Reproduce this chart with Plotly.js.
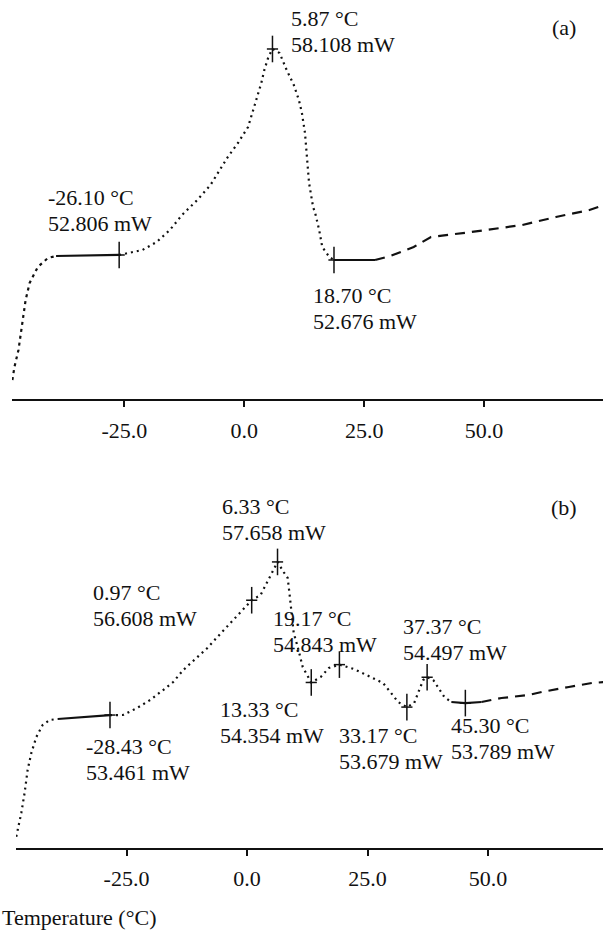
<!DOCTYPE html>
<html><head><meta charset="utf-8">
<script src="https://cdn.plot.ly/plotly-3.0.1.min.js"></script>
<style>html,body{margin:0;padding:0;background:#fff}</style>
</head><body><div id="chart" style="width:603px;height:935px"></div>
<script>
// ---- Data ----
// (a) DSC curve: temperature (°C) and heat flow (mW)
const tempA = [-48.37,-47.94,-47.10,-46.25,-45.61,-44.77,-43.07,-40.96,-39.26,-26.10,-24.01,-21.25,-18.28,-15.53,-12.99,-9.81,-7.06,-3.45,-1.33,0.78,2.48,3.54,4.17,5.02,5.87,7.35,8.83,10.32,11.38,12.01,12.65,13.07,13.50,14.34,14.77,15.61,16.25,17.73,18.70,27.27,30.45,35.32,38.92,47.39,57.99,64.98,71.97,76.21];
const powerA = [49.588,49.923,50.360,51.132,51.647,52.085,52.497,52.728,52.780,52.806,52.857,52.934,53.140,53.449,53.835,54.221,54.607,55.328,55.688,56.100,56.795,57.233,57.567,57.902,58.108,58.005,57.567,57.181,56.795,56.461,55.946,55.251,54.659,54.041,53.887,53.449,53.011,52.754,52.676,52.676,52.780,53.011,53.269,53.398,53.578,53.784,53.964,54.144];
// (a) labelled events
const eventTempA = [-26.10, 5.87, 18.70];
const eventPowerA = [52.806, 58.108, 52.676];

// (b) DSC curve
const tempB = [-47.88,-47.19,-46.83,-46.15,-45.52,-44.75,-43.71,-42.40,-40.94,-39.27,-28.43,-25.73,-22.81,-20.10,-17.40,-15.31,-13.23,-10.31,-8.23,-6.15,-3.44,-1.35,0.97,2.81,4.90,5.52,6.33,7.60,8.44,8.85,9.69,10.52,11.56,13.33,15.31,16.98,19.17,22.19,25.73,28.23,29.90,31.35,33.17,34.69,35.73,36.56,37.37,38.65,40.94,42.40,45.30,48.65,52.81,58.44,61.15,66.77,71.56,74.27];
const powerB = [50.127,50.503,50.777,51.325,51.955,52.421,52.859,53.188,53.325,53.353,53.461,53.462,53.654,53.873,54.147,54.367,54.695,55.052,55.298,55.600,55.984,56.285,56.608,56.751,57.299,57.436,57.658,57.381,57.217,56.751,55.709,55.326,54.778,54.354,54.504,54.750,54.843,54.723,54.504,54.339,54.065,53.819,53.679,53.791,54.147,54.421,54.497,54.421,53.956,53.819,53.789,53.819,53.928,54.010,54.093,54.230,54.339,54.367];
// (b) labelled events
const eventTempB = [6.33, 0.97, 19.17, 13.33, -28.43, 33.17, 37.37, 45.30];
const eventPowerB = [57.658, 56.608, 54.843, 54.354, 53.461, 53.679, 54.497, 53.789];

// axis ticks
const tickValues = [-25, 0, 25, 50];
const tickLabels = ['-25.0', '0.0', '25.0', '50.0'];
const xTitle = 'Temperature (°C)';
const panelLabels = ['(a)', '(b)'];

// ---- Styling / layout ----
const FONT = 'Liberation Serif, Times New Roman, serif';
const INK = '#111';
const LINE_GAP = 13; // half the distance between the two label lines (px)
// line style pieces along temperature (style only)
const stylesA = [
  {lo:-99, hi:-39.26, dash:'3px,4px'},
  {lo:-39.26, hi:-26.10, dash:'solid'},
  {lo:-26.10, hi:18.70, dash:'2px,4px'},
  {lo:18.70, hi:27.27, dash:'solid'},
  {lo:27.27, hi:99, dash:'10px,7px'}
];
const stylesB = [
  {lo:-99, hi:-39.27, dash:'2px,4px'},
  {lo:-39.27, hi:-28.43, dash:'solid'},
  {lo:-28.43, hi:42.40, dash:'2px,4px'},
  {lo:42.40, hi:48.65, dash:'solid'},
  {lo:48.65, hi:99, dash:'10px,7px'}
];
// text offsets (px) from each event point to its label block's left/middle
const offA = [[-73,44],[17,17.5],[-23,-48.5]];
const offB = [[-57.5,42],[-160.7,-4.8],[-68,33],[-93,-40],[-26,-44],[-69.6,-41],[-26.4,38],[-16.6,-35]];

function pieces(t, p, styles, xa, ya) {
  return styles.map(s => {
    const xs = [], ys = [];
    t.forEach((v, i) => { if (v >= s.lo && v <= s.hi) { xs.push(v); ys.push(p[i]); } });
    return {type:'scatter', mode:'lines', x:xs, y:ys, xaxis:xa, yaxis:ya,
      line:{color:INK, width:2.2, dash:s.dash}, hoverinfo:'skip', showlegend:false};
  });
}
function crosses(t, p, xa, ya) {
  return [
    {type:'scatter', mode:'markers', x:t, y:p, xaxis:xa, yaxis:ya, showlegend:false,
     marker:{symbol:'line-ns', size:19, color:INK, line:{color:INK, width:1.5}}},
    {type:'scatter', mode:'markers', x:t, y:p, xaxis:xa, yaxis:ya, showlegend:false,
     marker:{symbol:'line-ew', size:8, color:INK, line:{color:INK, width:1.5}}}
  ];
}
function labels(t, p, off, xr, yr) {
  const out = [];
  t.forEach((v, i) => {
    const base = {x:v, y:p[i], xref:xr, yref:yr, showarrow:false,
      xanchor:'left', yanchor:'middle', align:'left', xshift:off[i][0],
      font:{family:FONT, size:22, color:INK}};
    out.push(Object.assign({}, base, {text: v.toFixed(2) + ' °C', yshift: off[i][1] + LINE_GAP}));
    out.push(Object.assign({}, base, {text: p[i].toFixed(3) + ' mW', yshift: off[i][1] - LINE_GAP}));
  });
  return out;
}

const data = [].concat(
  pieces(tempA, powerA, stylesA, 'x', 'y'),
  crosses(eventTempA, eventPowerA, 'x', 'y'),
  pieces(tempB, powerB, stylesB, 'x2', 'y2'),
  crosses(eventTempB, eventPowerB, 'x2', 'y2')
);

const xBase = {
  showline:true, linecolor:INK, linewidth:2, showgrid:false, zeroline:false,
  ticks:'outside', ticklen:6, tickwidth:2, tickcolor:INK,
  tickvals:tickValues, ticktext:tickLabels, ticklabelstandoff:4,
  tickfont:{family:FONT, size:22, color:INK}, fixedrange:true
};

const layout = {
  width:603, height:935,
  margin:{l:12, r:0, t:0, b:87},
  paper_bgcolor:'#fff', plot_bgcolor:'#fff',
  showlegend:false,
  xaxis: Object.assign({}, xBase, {domain:[0,1], range:[-48.45, 74.8], anchor:'y'}),
  yaxis: {domain:[0.5289,1], range:[49.086, 59.369], visible:false, fixedrange:true},
  xaxis2: Object.assign({}, xBase, {domain:[4/591,1], range:[-47.93, 73.86], anchor:'y2'}),
  yaxis2: {domain:[0,0.4811], range:[49.817, 60.999], visible:false, fixedrange:true},
  annotations: [].concat(
    labels(eventTempA, eventPowerA, offA, 'x', 'y'),
    labels(eventTempB, eventPowerB, offB, 'x2', 'y2'),
    [
      {x:0.934, y:0.968, xref:'paper', yref:'paper', text:panelLabels[0], showarrow:false,
       xanchor:'center', yanchor:'middle', font:{family:FONT, size:22, color:INK}},
      {x:0.934, y:0.401, xref:'paper', yref:'paper', text:panelLabels[1], showarrow:false,
       xanchor:'center', yanchor:'middle', font:{family:FONT, size:22, color:INK}},
      {x:-0.0203, y:-0.0825, xref:'paper', yref:'paper', text:xTitle, showarrow:false,
       xanchor:'left', yanchor:'middle', font:{family:FONT, size:22, color:INK}}
    ]
  )
};

Plotly.newPlot('chart', data, layout, {displayModeBar:false, staticPlot:true});
</script></body></html>
